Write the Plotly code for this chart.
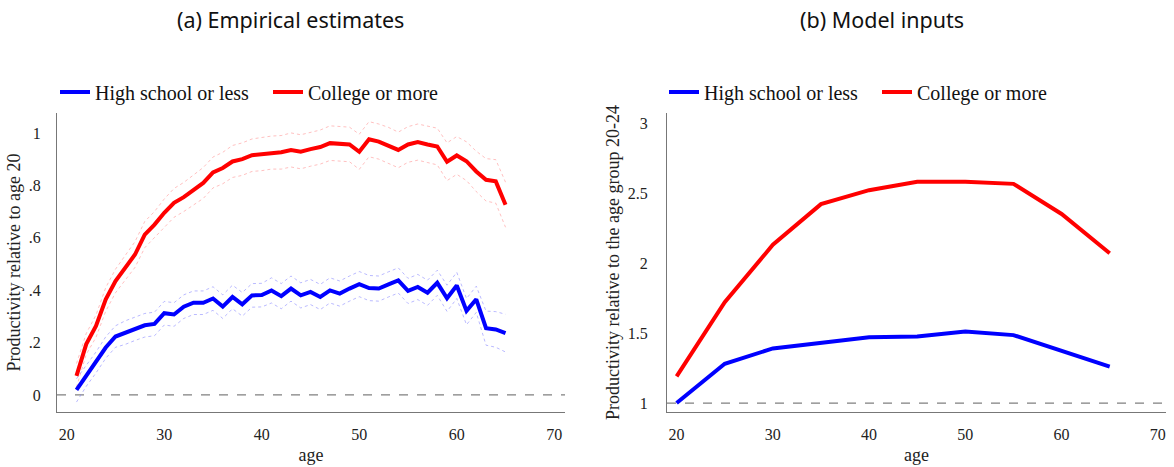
import plotly.graph_objects as go

W, H = 1174, 467

# ---------------- data ----------------
ages_emp = list(range(21, 66))

hs_emp = [0.019, 0.073, 0.124, 0.181, 0.223, 0.238, 0.253, 0.266, 0.271, 0.312,
          0.307, 0.337, 0.352, 0.352, 0.368, 0.337, 0.374, 0.346, 0.380, 0.381,
          0.399, 0.377, 0.406, 0.380, 0.393, 0.374, 0.399, 0.387, 0.406, 0.423,
          0.408, 0.406, 0.422, 0.437, 0.397, 0.412, 0.390, 0.428, 0.369, 0.418,
          0.321, 0.365, 0.255, 0.250, 0.236]
hs_emp_hi = [0.062, 0.113, 0.164, 0.222, 0.264, 0.283, 0.298, 0.311, 0.316, 0.357,
             0.352, 0.382, 0.397, 0.397, 0.413, 0.382, 0.419, 0.391, 0.425, 0.426,
             0.447, 0.425, 0.454, 0.428, 0.441, 0.422, 0.447, 0.435, 0.454, 0.471,
             0.456, 0.454, 0.470, 0.485, 0.445, 0.460, 0.438, 0.476, 0.419, 0.468,
             0.368, 0.415, 0.320, 0.318, 0.308]
hs_emp_lo = [-0.027, 0.033, 0.084, 0.140, 0.182, 0.193, 0.208, 0.221, 0.226, 0.267,
             0.262, 0.292, 0.307, 0.307, 0.323, 0.292, 0.329, 0.301, 0.335, 0.336,
             0.351, 0.329, 0.358, 0.332, 0.345, 0.326, 0.351, 0.339, 0.358, 0.375,
             0.360, 0.358, 0.374, 0.389, 0.349, 0.364, 0.342, 0.380, 0.319, 0.368,
             0.268, 0.315, 0.190, 0.182, 0.164]

col_emp = [0.073, 0.194, 0.263, 0.365, 0.435, 0.486, 0.536, 0.612, 0.650, 0.695,
           0.733, 0.755, 0.783, 0.809, 0.849, 0.866, 0.891, 0.900, 0.915, 0.919,
           0.925, 0.926, 0.935, 0.928, 0.938, 0.946, 0.961, 0.958, 0.956, 0.928,
           0.976, 0.967, 0.953, 0.935, 0.956, 0.965, 0.956, 0.948, 0.890, 0.914,
           0.892, 0.853, 0.821, 0.815, 0.726]
col_emp_hi = [0.120, 0.235, 0.305, 0.410, 0.480, 0.535, 0.585, 0.662, 0.700, 0.748,
              0.788, 0.811, 0.840, 0.868, 0.908, 0.926, 0.952, 0.962, 0.977, 0.982,
              0.988, 0.990, 1.000, 0.993, 1.003, 1.011, 1.027, 1.024, 1.022, 0.995,
              1.043, 1.034, 1.021, 1.003, 1.024, 1.034, 1.025, 1.018, 0.962, 0.986,
              0.966, 0.930, 0.902, 0.898, 0.812]
col_emp_lo = [0.030, 0.155, 0.220, 0.320, 0.390, 0.440, 0.487, 0.562, 0.600, 0.642,
              0.678, 0.700, 0.726, 0.750, 0.790, 0.806, 0.830, 0.838, 0.853, 0.856,
              0.862, 0.862, 0.870, 0.863, 0.873, 0.881, 0.895, 0.892, 0.890, 0.861,
              0.909, 0.900, 0.885, 0.867, 0.888, 0.896, 0.887, 0.878, 0.818, 0.842,
              0.818, 0.776, 0.740, 0.732, 0.640]

ages_mod = [20, 25, 30, 35, 40, 45, 50, 55, 60, 65]
hs_mod = [1.00, 1.28, 1.39, 1.43, 1.47, 1.475, 1.51, 1.485, 1.37, 1.26]
col_mod = [1.19, 1.72, 2.13, 2.42, 2.52, 2.58, 2.58, 2.565, 2.35, 2.07]

x_ticks = [20, 30, 40, 50, 60, 70]
y1_ticks = [0, 0.2, 0.4, 0.6, 0.8, 1]
y1_labels = ["0", ".2", ".4", ".6", ".8", "1"]
y2_ticks = [1, 1.5, 2, 2.5, 3]
y2_labels = ["1", "1.5", "2", "2.5", "3"]

series_names = ["High school or less", "College or more"]
titles = ["(a) Empirical estimates", "(b) Model inputs"]

BLUE = "#0000ff"
RED = "#ff0000"
BLUE_CI = "rgba(140,140,255,0.6)"
RED_CI = "rgba(255,140,140,0.55)"
SERIF = "Liberation Serif"

fig = go.Figure()

# confidence bands (dotted)
for yy, c in [(hs_emp_hi, BLUE_CI), (hs_emp_lo, BLUE_CI),
              (col_emp_hi, RED_CI), (col_emp_lo, RED_CI)]:
    fig.add_trace(go.Scatter(x=ages_emp, y=yy, mode="lines",
                             line=dict(color=c, width=1, dash="dot"),
                             showlegend=False, hoverinfo="skip",
                             xaxis="x", yaxis="y"))

fig.add_trace(go.Scatter(x=ages_emp, y=hs_emp, mode="lines", name=series_names[0],
                         line=dict(color=BLUE, width=4), xaxis="x", yaxis="y",
                         legend="legend"))
fig.add_trace(go.Scatter(x=ages_emp, y=col_emp, mode="lines", name=series_names[1],
                         line=dict(color=RED, width=4), xaxis="x", yaxis="y",
                         legend="legend"))

fig.add_trace(go.Scatter(x=ages_mod, y=hs_mod, mode="lines", name=series_names[0],
                         line=dict(color=BLUE, width=4), xaxis="x2", yaxis="y2",
                         legend="legend2"))
fig.add_trace(go.Scatter(x=ages_mod, y=col_mod, mode="lines", name=series_names[1],
                         line=dict(color=RED, width=4), xaxis="x2", yaxis="y2",
                         legend="legend2"))

# reference dashed lines
fig.add_shape(type="line", xref="x domain", yref="y", x0=0, x1=1, y0=0, y1=0,
              line=dict(color="#808080", width=1.3, dash="dash"), layer="below")
fig.add_shape(type="line", xref="x2 domain", yref="y2", x0=0, x1=1, y0=1, y1=1,
              line=dict(color="#808080", width=1.3, dash="dash"), layer="below")

tickfont = dict(family=SERIF, size=16, color="#222")
titlefont = dict(family=SERIF, size=18, color="#222")

ydom = [1 - 412 / H, 1 - 113 / H]

common_x = dict(showgrid=False, zeroline=False, showline=True, linecolor="#777",
                linewidth=1.3, ticks="", tickvals=x_ticks, tickfont=tickfont,
                ticklabelstandoff=8)
common_y = dict(showgrid=False, zeroline=False, showline=True, linecolor="#777",
                linewidth=1.3, ticks="", tickfont=tickfont)

fig.update_layout(
    width=W, height=H,
    margin=dict(l=0, r=0, t=0, b=0),
    paper_bgcolor="white", plot_bgcolor="white",
    xaxis=dict(domain=[57 / W, 565 / W], range=[19, 71.1], anchor="y",
               title=dict(text="age", font=titlefont, standoff=6), **common_x),
    yaxis=dict(domain=ydom, range=[-0.065, 1.076], anchor="x",
               tickvals=y1_ticks, ticktext=y1_labels, ticklabelstandoff=12,
               title=dict(text="Productivity relative to age 20", font=titlefont,
                          standoff=3), **common_y),
    xaxis2=dict(domain=[667 / W, 1166 / W], range=[19, 70.85], anchor="y2",
                title=dict(text="age", font=titlefont, standoff=6), **common_x),
    yaxis2=dict(domain=ydom, range=[0.936, 3.071], anchor="x2",
                tickvals=y2_ticks, ticktext=y2_labels, ticklabelstandoff=15,
                title=dict(text="Productivity relative to the age group 20-24",
                           font=titlefont, standoff=3), **common_y),
    legend=dict(orientation="h", x=55 / W, xanchor="left", y=1 - 92 / H,
                yanchor="middle", font=dict(family=SERIF, size=20, color="#111"),
                bgcolor="rgba(0,0,0,0)", entrywidth=168, entrywidthmode="pixels",
                itemwidth=30),
    legend2=dict(orientation="h", x=664 / W, xanchor="left", y=1 - 92 / H,
                 yanchor="middle", font=dict(family=SERIF, size=20, color="#111"),
                 bgcolor="rgba(0,0,0,0)", entrywidth=168, entrywidthmode="pixels",
                 itemwidth=30),
    annotations=[
        dict(text=titles[0], xref="paper", yref="paper", x=290 / W, y=1 - 20 / H,
             xanchor="center", yanchor="middle", showarrow=False,
             font=dict(family="Noto Sans", size=21.5, color="#111")),
        dict(text=titles[1], xref="paper", yref="paper", x=882 / W, y=1 - 20 / H,
             xanchor="center", yanchor="middle", showarrow=False,
             font=dict(family="Noto Sans", size=21.5, color="#111")),
    ],
)

fig.write_html("out.html")
